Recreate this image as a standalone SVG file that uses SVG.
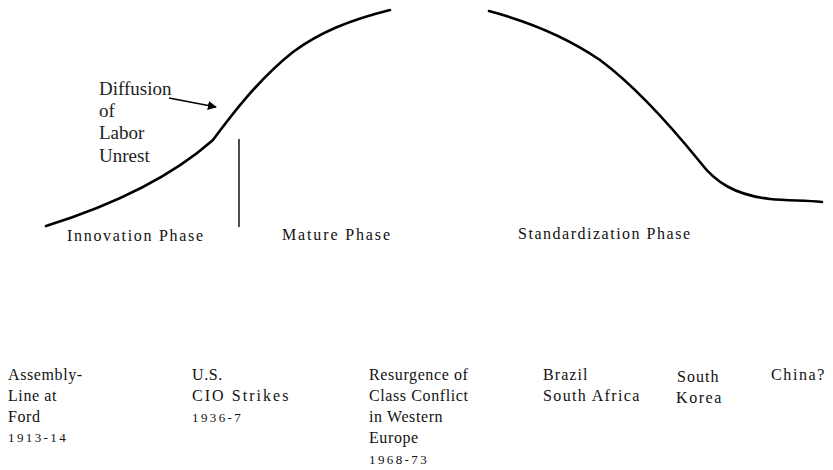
<svg xmlns="http://www.w3.org/2000/svg" width="833" height="470" viewBox="0 0 833 470">
<style>
.curve{fill:none;stroke:#000;stroke-width:2.6;stroke-linecap:round;stroke-linejoin:round}
.t{font-family:"Liberation Serif","Times New Roman",serif;font-size:16px;fill:#111;letter-spacing:0.6px}
.ph{font-family:"Liberation Serif","Times New Roman",serif;font-size:16px;fill:#111}
.yr{font-family:"Liberation Serif","Times New Roman",serif;font-size:13px;fill:#111;letter-spacing:2.4px}
.lab{font-family:"Liberation Serif","Times New Roman",serif;font-size:19px;fill:#222}
</style>
<defs>
<marker id="ah" viewBox="0 0 10 10" refX="9" refY="5" markerWidth="9" markerHeight="9" markerUnits="userSpaceOnUse" orient="auto">
<path d="M0,0 L10,5 L0,10 z" fill="#000"/>
</marker>
</defs>
<g id="connectors">
<path id="rise" class="curve" d="M46,226 C110,206 170,178 213,140 C225,124 255,82 293,52 C320,32 350,20 390,10"/>
<path id="fall" class="curve" d="M489,11 C530,22 568,38 600,60 C635,86 670,125 700,162 C715,182 735,195 770,199 C790,201 805,200 822,202"/>
<line id="divider" x1="239" y1="139" x2="239" y2="227" stroke="#222" stroke-width="1.6"/>
<line id="arrow" x1="169" y1="98" x2="216" y2="107" stroke="#000" stroke-width="1.6" marker-end="url(#ah)"/>
</g>
<g id="diffusion">
<text class="lab" x="99" y="95">Diffusion</text>
<text class="lab" x="99" y="117">of</text>
<text class="lab" x="99" y="139">Labor</text>
<text class="lab" x="99" y="162">Unrest</text>
</g>
<g id="phases">
<text class="ph" x="67" y="241" textLength="136" lengthAdjust="spacing">Innovation Phase</text>
<text class="ph" x="282" y="240" textLength="108" lengthAdjust="spacing">Mature Phase</text>
<text class="ph" x="518" y="239" textLength="172" lengthAdjust="spacing">Standardization  Phase</text>
</g>
<g id="ford">
<text class="t" x="8" y="380">Assembly-</text>
<text class="t" x="8" y="401">Line at</text>
<text class="t" x="8" y="422">Ford</text>
<text class="yr" x="8" y="442">1913-14</text>
</g>
<g id="cio">
<text class="t" x="192" y="380">U.S.</text>
<text class="t" x="192" y="401" textLength="97" lengthAdjust="spacing">CIO Strikes</text>
<text class="yr" x="192" y="422">1936-7</text>
</g>
<g id="europe">
<text class="t" x="369" y="380">Resurgence of</text>
<text class="t" x="369" y="401">Class Conflict</text>
<text class="t" x="369" y="422">in Western</text>
<text class="t" x="369" y="443">Europe</text>
<text class="yr" x="369" y="464">1968-73</text>
</g>
<g id="brazil">
<text class="t" x="543" y="380" textLength="45" lengthAdjust="spacing">Brazil</text>
<text class="t" x="543" y="401" textLength="97" lengthAdjust="spacing">South Africa</text>
</g>
<g id="korea">
<text class="t" x="677" y="382" textLength="42" lengthAdjust="spacing">South</text>
<text class="t" x="676" y="403" textLength="46" lengthAdjust="spacing">Korea</text>
</g>
<g id="china">
<text class="t" x="771" y="380" textLength="54" lengthAdjust="spacing">China?</text>
</g>
</svg>
